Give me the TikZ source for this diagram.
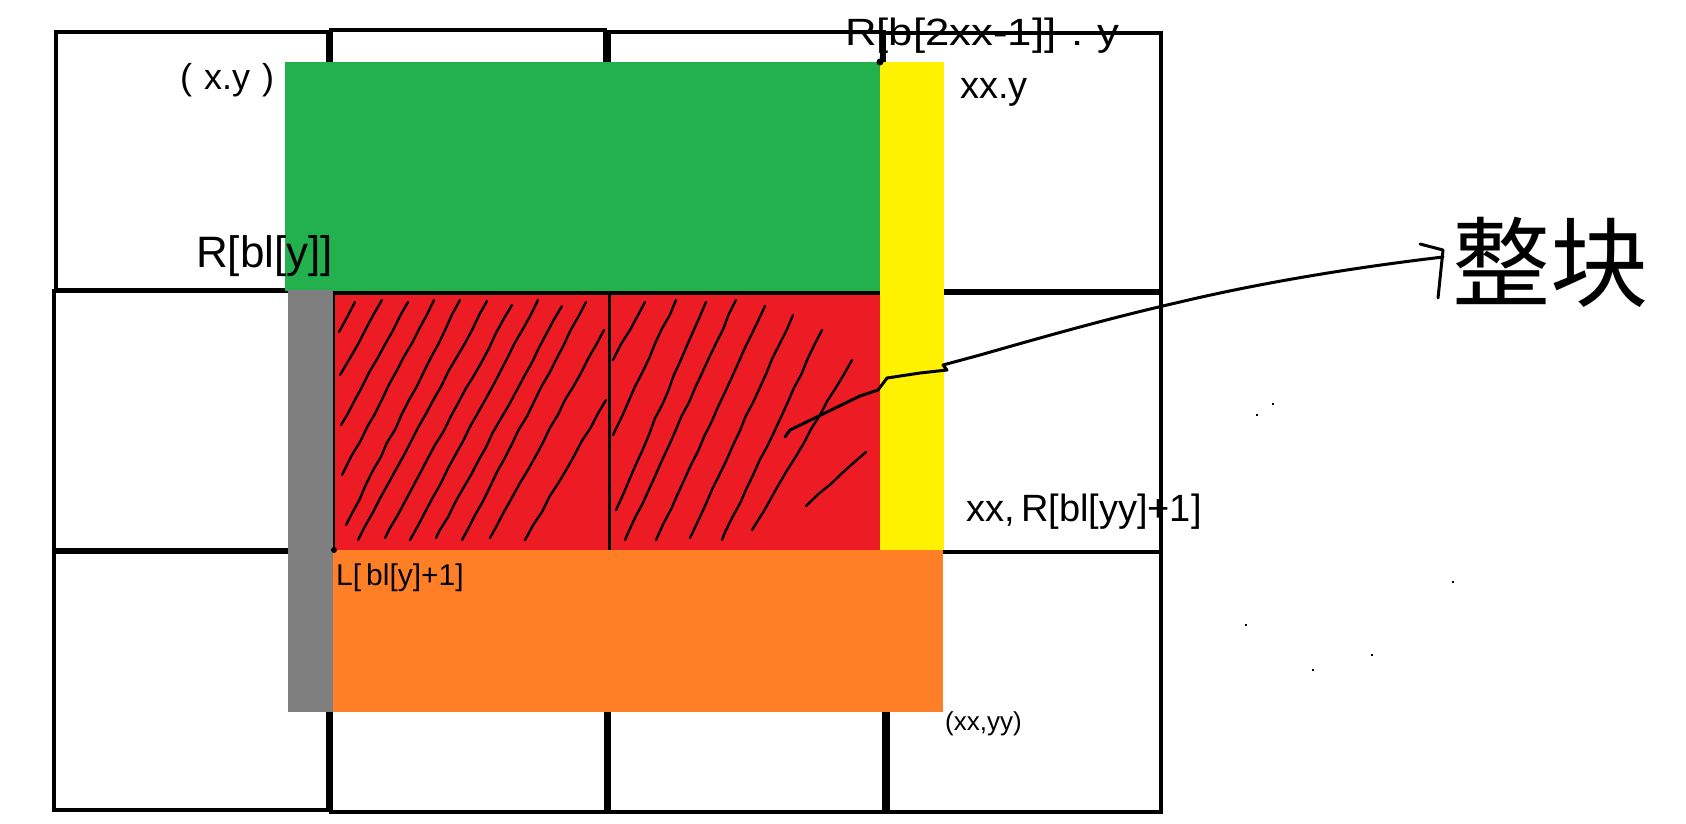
\documentclass[tikz,border=0pt]{standalone}
\usepackage{fontspec}
\setmainfont{Liberation Sans}
\newfontfamily\cjk{Noto Sans CJK SC}
\usetikzlibrary{decorations.pathmorphing}
\definecolor{pgreen}{HTML}{22B14C}
\definecolor{pyellow}{HTML}{FFF200}
\definecolor{pgray}{HTML}{7F7F7F}
\definecolor{pred}{HTML}{ED1C24}
\definecolor{porange}{HTML}{FF7F27}
\tikzset{
  cell/.style={draw=black,line width=4.5pt},
  hatch/.style={draw=black,line width=2.4pt,line cap=round,decorate,decoration={random steps,segment length=16pt,amplitude=0.7pt}},
  hand/.style={draw=black,line width=3pt,line cap=round,line join=round},
  lbl/.style={inner sep=0pt,anchor=west,text=black}
}
\begin{document}
\begin{tikzpicture}[x=1pt,y=-1pt]
\pgfmathsetseed{7}
\useasboundingbox (0,0) rectangle (1686,823);
\fill[white] (0,0) rectangle (1686,823);
% grid cells
\draw[cell] (56,32) rectangle (328,290);
\draw[cell] (331,30) rectangle (605,290);
\draw[cell] (609,32) rectangle (884,290);
\draw[cell] (884,33) rectangle (1161,291);
\draw[cell] (54,291) rectangle (328,550);
\draw[cell] (331,292) rectangle (609,550);
\draw[cell] (609,292) rectangle (884,550);
\draw[cell] (884,293) rectangle (1161,552);
\draw[cell] (54,552) rectangle (328,810);
\draw[cell] (331,552) rectangle (606,812);
\draw[cell] (609,552) rectangle (884,812);
\draw[cell] (888,552) rectangle (1161,812);
% coloured blocks
\fill[pgreen] (285,62) rectangle (880,291);
\fill[pyellow] (880,62) rectangle (944,550);
\fill[pred] (333,293) rectangle (880,550);
\fill[porange] (333,550) rectangle (943,712);
\fill[pgray] (288,290) rectangle (333,712);
% lines over the red block
\draw[black,line width=3.5pt] (333,293) -- (880,293);
\draw[black,line width=3pt] (609,293) -- (609,550);
\draw[black,line width=2.5pt] (334,293) -- (334,550);
\fill[black] (334,550) circle (3pt);
% hatch strokes
\begin{scope}
\clip (336,296) rectangle (878,548);
\foreach \xa/\ya/\xb/\yb in {
  355/302/339/332, 382/300/340/375, 408/302/341/425, 434/300/342/475,
  460/300/346/525, 487/301/358/540, 512/305/385/538, 538/300/410/540,
  562/306/436/538, 586/302/462/540, 604/330/490/538, 606/400/525/540,
  645/302/613/360, 676/300/613/435, 706/302/616/510, 736/300/625/540,
  765/306/656/540, 793/315/690/538, 822/330/722/540,
  852/360/752/530, 866/452/806/506}
  \draw[hatch] (\xa,\ya) -- (\xb,\yb);
\end{scope}
% pointer from label to corner
\draw[black,line width=2.5pt] (882,38) -- (881,62);
\fill[black] (880,62) circle (3.5pt);
% arrow curve to the label
\coordinate (cs) at (785,437);
\coordinate (ce) at (1443,257);
\draw[hand] (cs) -- (790,430) -- (860,396) -- (878,390) -- (887,378) -- (920,373) -- (947,370) -- (943,365) -- (980,355)
  .. controls (1050,335) and (1110,318) .. (1180,302)
  .. controls (1260,283) and (1350,268) .. (ce);
\draw[hand] (1420,244) -- (1443,250) -- (1438,298);
% labels
\node[lbl,font=\fontsize{36}{36}\selectfont] (lxy) at (180,80) {(\,\,x.y\,\,)};
\node[lbl,font=\fontsize{38}{38}\selectfont,xscale=1.15] (lrb) at (845,36) {R[b[2xx-1]]\,\,.\,\,y};
\node[lbl,font=\fontsize{38}{38}\selectfont] (lxxy) at (960,92) {xx.y};
\node[lbl,font=\fontsize{44}{44}\selectfont] (lbly) at (196,256) {R[bl[y]]};
\node[lbl,font=\fontsize{30}{30}\selectfont] (lbl1) at (336,578) {L[\,bl[y]+1]};
\node[lbl,font=\fontsize{38}{38}\selectfont] (lxxr) at (966,512) {xx,\,R[bl[yy]+1]};
\node[lbl,font=\fontsize{26}{26}\selectfont] (lxxyy) at (945,724) {(xx,yy)};
\node[lbl,font=\cjk\fontsize{98}{98}\selectfont] (lz) at (1452,262) {整块};
% stray specks
\foreach \px/\py in {1256/414, 1272/403, 1452/581, 1245/624, 1371/654, 1312/669}
  \fill[black] (\px,\py) rectangle ++(2,2);
\end{tikzpicture}
\end{document}
